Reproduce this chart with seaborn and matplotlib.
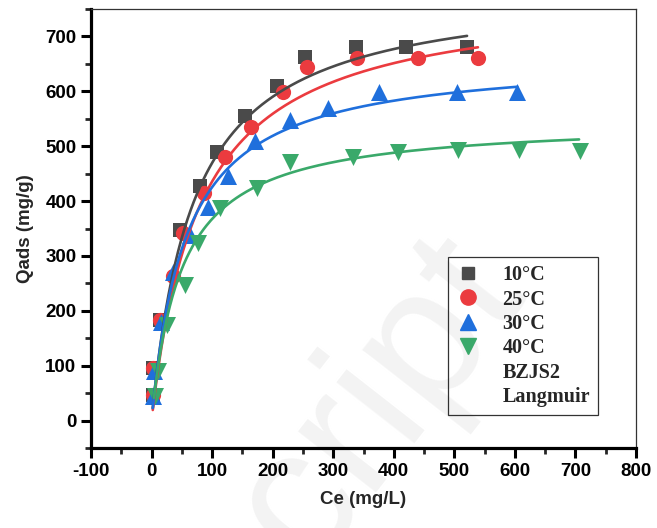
import numpy as np
import pandas as pd
import matplotlib
matplotlib.use("Agg")
import matplotlib.pyplot as plt
import seaborn as sns
from matplotlib.lines import Line2D
from matplotlib.ticker import MultipleLocator

# Equilibrium adsorption data for BZJS2 at four temperatures
temps = ["10°C", "25°C", "30°C", "40°C"]

ce_10 = [3, 3, 14, 47, 80, 108, 154, 207, 253, 338, 420, 521]
q_10 = [47, 95, 184, 348, 427, 490, 555, 609, 663, 680, 680, 680]

ce_25 = [3, 3, 14, 36, 52, 87, 121, 165, 217, 256, 340, 440, 539]
q_25 = [46, 95, 184, 263, 342, 415, 480, 535, 599, 645, 660, 660, 660]

ce_30 = [2, 4, 16, 36, 63, 94, 127, 171, 228, 292, 376, 504, 604]
q_30 = [45, 90, 180, 270, 339, 390, 445, 510, 547, 570, 598, 598, 598]

ce_40 = [6, 11, 25, 55, 77, 113, 174, 228, 333, 407, 506, 607, 707]
q_40 = [44, 90, 175, 247, 324, 388, 424, 472, 481, 490, 493, 493, 492]

# Langmuir parameters (qm in mg/g, KL in L/mg) and fitted Ce range
qm = [794, 780, 665, 548]
kl = [0.01447, 0.01265, 0.01775, 0.02034]
ce_start = [2, 2, 2, 4]
ce_end = [521, 539, 604, 706]

colors = ["#4a4a4a", "#eb3b3f", "#1f6fdc", "#3aa96a"]
markers = ["s", "o", "^", "v"]
sizes = [95, 120, 150, 150]

frames = []
for t, ce, q in zip(temps, [ce_10, ce_25, ce_30, ce_40], [q_10, q_25, q_30, q_40]):
    frames.append(pd.DataFrame({"Ce": ce, "q": q, "T": t}))
points = pd.concat(frames, ignore_index=True)

curves = []
for t, a, k, c0, c1 in zip(temps, qm, kl, ce_start, ce_end):
    c = np.linspace(c0, c1, 300)
    curves.append(pd.DataFrame({"Ce": c, "q": a * k * c / (1 + k * c), "T": t}))
fits = pd.concat(curves, ignore_index=True)

sns.set_style("white")
plt.rcParams["font.family"] = ["Liberation Sans", "DejaVu Sans"]
plt.rcParams["font.weight"] = "bold"
plt.rcParams["axes.unicode_minus"] = False

fig = plt.figure(figsize=(6.57, 5.28), dpi=100)

# faint background watermark
fig.text(0.535, 0.17, "script", fontsize=135, color="#f3f3f3", rotation=52,
         ha="center", va="center", fontweight="normal", zorder=-5,
         family="Liberation Sans")

ax = fig.add_axes([91 / 657, 80 / 528, 545 / 657, 439 / 528])
ax.patch.set_alpha(0)

pal = dict(zip(temps, colors))
for t, m, s in zip(temps, markers, sizes):
    sns.scatterplot(data=points[points["T"] == t], x="Ce", y="q", color=pal[t],
                    marker=m, s=s, linewidth=0, ax=ax, legend=False, zorder=2)
for t in temps:
    sns.lineplot(data=fits[fits["T"] == t], x="Ce", y="q", color=pal[t],
                 linewidth=1.9, ax=ax, legend=False, zorder=3, sort=False)

ax.set_xlim(-100, 800)
ax.set_ylim(-50, 750)
ax.xaxis.set_major_locator(MultipleLocator(100))
ax.xaxis.set_minor_locator(MultipleLocator(50))
ax.set_yticks(np.arange(0, 701, 100))
ax.yaxis.set_minor_locator(MultipleLocator(50))

ax.tick_params(which="major", direction="out", length=7, width=2.2,
               labelsize=13.5, colors="black", left=True, bottom=True)
ax.tick_params(which="minor", direction="out", length=4, width=2.0,
               left=True, bottom=True)
for lab in ax.get_xticklabels() + ax.get_yticklabels():
    lab.set_fontweight("bold")

for side in ["left", "bottom"]:
    ax.spines[side].set_linewidth(2.3)
    ax.spines[side].set_color("black")
for side in ["top", "right"]:
    ax.spines[side].set_linewidth(0.9)
    ax.spines[side].set_color("#333333")

ax.set_xlabel("Ce (mg/L)", fontsize=13.5, fontweight="bold", labelpad=8)
ax.set_ylabel("Qads (mg/g)", fontsize=13.5, fontweight="bold", labelpad=8)

handles = [Line2D([], [], linestyle="none", marker=m, color=c, markersize=ms)
           for m, c, ms in zip(markers, colors, [9, 11, 12, 12])]
handles += [Line2D([], [], linestyle="none"), Line2D([], [], linestyle="none")]
labels = temps + ["BZJS2", "Langmuir"]
leg = ax.legend(handles, labels, loc="upper left", bbox_to_anchor=(0.655, 0.435),
                frameon=True, fancybox=False, borderaxespad=0, handlelength=1.2,
                handletextpad=1.1, labelspacing=0.22, borderpad=0.4,
                prop={"family": "Liberation Serif", "weight": "bold", "size": 14.5})
leg.get_frame().set_edgecolor("black")
leg.get_frame().set_linewidth(0.9)
leg.get_frame().set_facecolor("none")

fig.savefig("out.png", dpi=100)
